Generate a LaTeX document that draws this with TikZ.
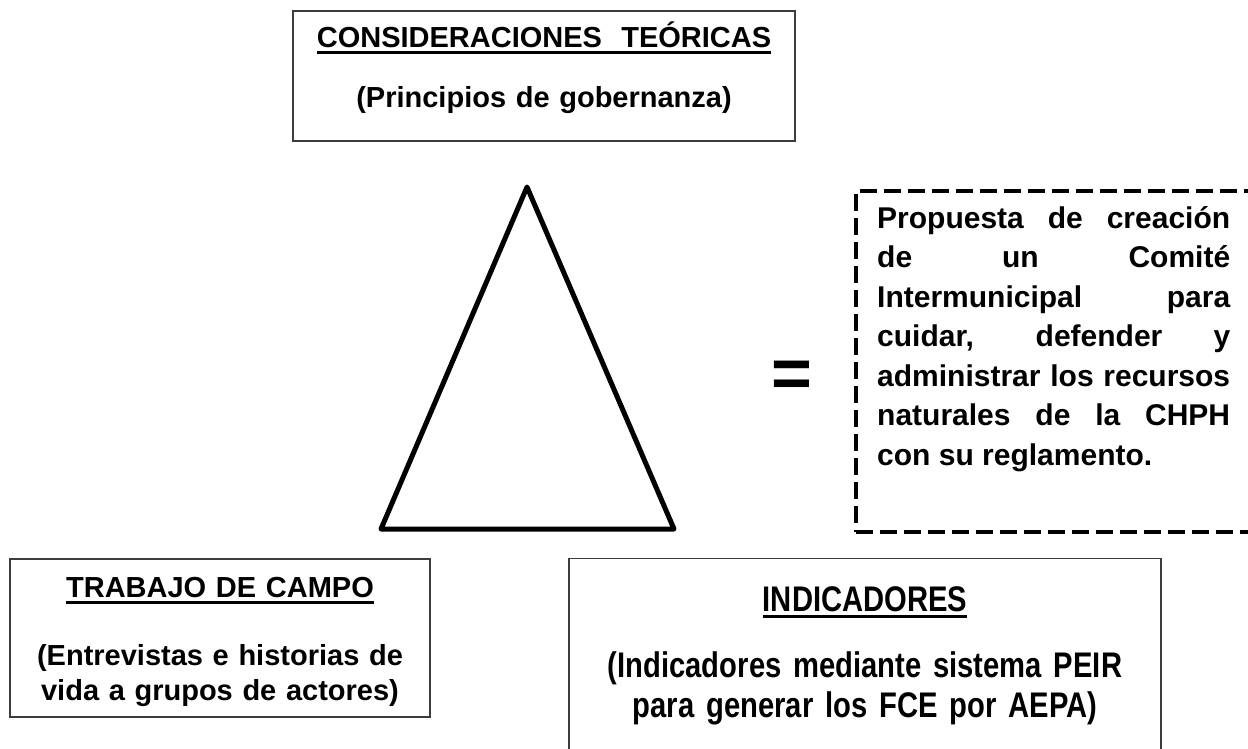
\documentclass[tikz,border=0pt]{standalone}
\usepackage{fontspec}
\setmainfont{Liberation Sans}
\newfontfamily\estrecha[FakeStretch=0.82]{Liberation Sans}
\usepackage{tikz}
\usetikzlibrary{positioning}
\definecolor{marcogris}{RGB}{60,60,60}
\newcommand{\subrayado}[1]{\setbox0\hbox{#1}\rlap{\rule[-6.5pt]{\wd0}{3pt}}\box0}

\begin{document}
\begin{tikzpicture}[x=1pt, y=-1pt,
    marco/.style={draw=marcogris, line width=1.4pt, rectangle, inner sep=0pt},
    texto/.style={anchor=base, inner sep=0pt, align=center}]
    \path[use as bounding box, clip] (0,0) rectangle (1248,749);
    % Consideraciones teoricas
    \node[marco, minimum width=502pt, minimum height=130pt] (teoria) at (544,76) {};
    \node[texto, text width=500pt, font=\bfseries\fontsize{29}{60}\selectfont] (teoriatxt) at (544,48) {
      \subrayado{CONSIDERACIONES\ \ TEÓRICAS}\\
      (Principios de gobernanza)
    };
    % Triangulo
    \coordinate (vertice) at (527,187);
    \coordinate (izq) at (381,529);
    \coordinate (der) at (674,529);
    \draw[line width=5pt, line join=round] (vertice) -- (der) -- (izq) -- cycle;
    % Signo igual
    \node[inner sep=0pt, font=\bfseries\fontsize{70}{70}\selectfont] (igual) at (792,379) {=};
    % Propuesta
    \node[draw, dash pattern=on 17pt off 7pt, line width=4pt, rectangle, inner sep=0pt, minimum width=416pt, minimum height=341pt, anchor=north west] (propuesta) at (854,189) {};
    \node[anchor=base west, inner sep=0pt, text width=353pt, align=justify, font=\bfseries\fontsize{30}{39.5}\selectfont] (propuestatxt) at (877,228) {
      \tolerance=10000\hyphenpenalty=10000
      Propuesta de creación\linebreak
      de un Comité\linebreak
      Intermunicipal para\linebreak
      cuidar, defender y\linebreak
      administrar los recursos\linebreak
      naturales de la CHPH\linebreak
      con su reglamento.
    };
    % Trabajo de campo
    \node[marco, minimum width=420pt, minimum height=158pt] (campo) at (220,638) {};
    \node[texto, text width=418pt, font=\bfseries\fontsize{29}{35}\selectfont] (campotxt) at (220,597) {
      \subrayado{TRABAJO DE CAMPO}\\[33pt]
      (Entrevistas e historias de\\
      vida a grupos de actores)
    };
    % Indicadores
    \node[marco, minimum width=592pt, minimum height=210pt, anchor=north] (indicadores) at (865,558) {};
    \node[texto, text width=590pt, font=\estrecha\bfseries\fontsize{35.6}{40}\selectfont] (indicadorestxt) at (865,611) {
      \subrayado{INDICADORES}\\[26pt]
      (Indicadores mediante sistema PEIR\\
      para generar los FCE por AEPA)
    };
\end{tikzpicture}
\end{document}
